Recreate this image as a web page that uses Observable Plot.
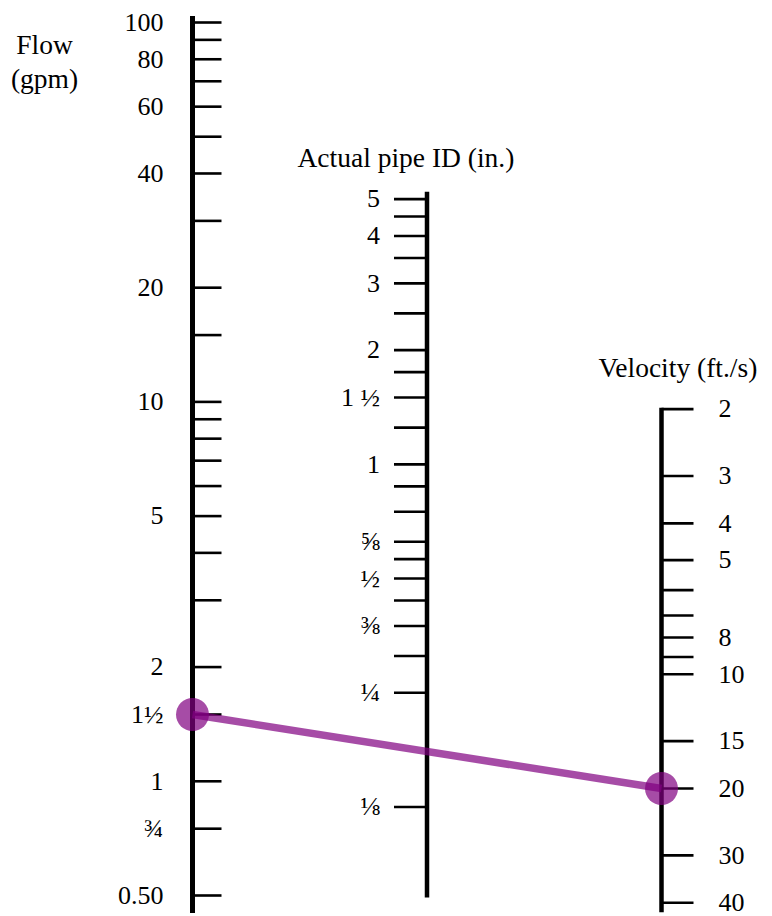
<!DOCTYPE html>
<html>
<head>
<meta charset="utf-8">
<script src="https://cdn.jsdelivr.net/npm/d3@7"></script>
<script src="https://cdn.jsdelivr.net/npm/@observablehq/plot@0.6"></script>
<style>
  html, body { margin: 0; padding: 0; background: #fff; }
  #chart svg text { font-family: "Liberation Serif", "Times New Roman", Times, serif; }
</style>
</head>
<body>
<div id="chart"></div>
<script>
// ---------- Data ----------
// Flow axis (gpm)
const flowTicks = [100, 90, 80, 70, 60, 50, 40, 30, 20, 15, 10, 9, 8, 7, 6, 5, 4, 3, 2, 1.5, 1, 0.75, 0.5];
const flowLabelValues = [100, 80, 60, 40, 20, 10, 5, 2, 1.5, 1, 0.75, 0.5];
const flowLabelTexts = ["100", "80", "60", "40", "20", "10", "5", "2", "1½", "1", "¾", "0.50"];

// Actual pipe ID axis (in.)
const pipeTicks = [5, 4.5, 4, 3.5, 3, 2.5, 2, 1.75, 1.5, 1.25, 1, 0.875, 0.75, 0.625, 0.5625, 0.5, 0.4375, 0.375, 0.3125, 0.25, 0.125];
const pipeLabelValues = [5, 4, 3, 2, 1.5, 1, 0.625, 0.5, 0.375, 0.25, 0.125];
const pipeLabelTexts = ["5", "4", "3", "2", "1 ½", "1", "⅝", "½", "⅜", "¼", "⅛"];

// Velocity axis (ft./s)
const velTicks = [2, 3, 4, 5, 6, 7, 8, 9, 10, 15, 20, 30, 40];
const velLabelValues = [2, 3, 4, 5, 8, 10, 15, 20, 30, 40];
const velLabelTexts = ["2", "3", "4", "5", "8", "10", "15", "20", "30", "40"];

// Axis titles
const axisTitles = ["Flow", "(gpm)", "Actual pipe ID (in.)", "Velocity (ft./s)"];

// Example reading drawn on the nomogram
const exampleFlow = 1.5;      // gpm
const exampleVelocity = 20;   // ft./s

// ---------- Nomogram geometry ----------
// Q[gpm] = 2.448 * V[ft/s] * D[in]^2 ; all three scales share one log modulus.
const GPM_FACTOR = 2.448;
const KV = 19.14;                          // velocity scale offset (flow-equivalent = KV / V)
const KD = Math.sqrt(GPM_FACTOR * KV);     // pipe scale follows from the equation
const flowPos = q => q;
const velPos = v => KV / v;
const pipePos = d => KD * d;

const W = 772, H = 916;
const M = {top: 22, bottom: 21, left: 192, right: 111};
const UNIT = (W - M.left - M.right) / 2;   // px between adjacent axes
const FONT = '"Liberation Serif", "Times New Roman", Times, serif';
const TICK_FS = 26, TITLE_FS = 27.5;

const axes = [
  {i: 0, ticks: flowTicks, vals: flowLabelValues, texts: flowLabelTexts, pos: flowPos,
   dir: 1, len: 29, dx: -29, anchor: "end", sw: 5, insetTop: -6, insetBottom: -18},
  {i: 1, ticks: pipeTicks, vals: pipeLabelValues, texts: pipeLabelTexts, pos: pipePos,
   dir: -1, len: 33, dx: -47, anchor: "end", sw: 4.5, insetTop: -7, insetBottom: -91},
  {i: 2, ticks: velTicks, vals: velLabelValues, texts: velLabelTexts, pos: velPos,
   dir: 1, len: 32, dx: 57, anchor: "start", sw: 4.5, insetTop: -1, insetBottom: -10}
];

const marks = [];
for (const a of axes) {
  const ys = a.ticks.map(a.pos);
  const top = d3.max(ys), bottom = d3.min(ys);
  marks.push(Plot.ruleX([a.i], {
    x: d => d, y1: () => top, y2: () => bottom,
    stroke: "black", strokeWidth: a.sw, insetTop: a.insetTop, insetBottom: a.insetBottom
  }));
  marks.push(Plot.link(a.ticks, {
    x1: () => a.i, x2: () => a.i + a.dir * a.len / UNIT,
    y1: d => a.pos(d), y2: d => a.pos(d),
    stroke: "black", strokeWidth: 2.6
  }));
  marks.push(Plot.text(a.vals, {
    x: () => a.i, y: d => a.pos(d),
    text: (d, k) => a.texts[k],
    dx: a.dx, textAnchor: a.anchor, lineAnchor: "middle",
    fontSize: TICK_FS, fontFamily: FONT, fill: "black"
  }));
}

// Titles
const titleOpts = {frameAnchor: "top", lineAnchor: "bottom", fontSize: TITLE_FS, fontFamily: FONT, fill: "black"};
marks.push(Plot.text([axisTitles[0]], {...titleOpts, x: () => 0, dx: -148, dy: 31, textAnchor: "middle"}));
marks.push(Plot.text([axisTitles[1]], {...titleOpts, x: () => 0, dx: -148, dy: 65, textAnchor: "middle"}));
marks.push(Plot.text([axisTitles[2]], {...titleOpts, x: () => 1, dx: -129.5, dy: 144, textAnchor: "start"}));
marks.push(Plot.text([axisTitles[3]], {...titleOpts, x: () => 2, dx: -63, dy: 354, textAnchor: "start"}));

// Example isopleth
const example = [{q: exampleFlow, v: exampleVelocity}];
marks.push(Plot.link(example, {
  x1: () => 0, y1: d => flowPos(d.q), x2: () => 2, y2: d => velPos(d.v),
  stroke: "purple", strokeOpacity: 0.7, strokeWidth: 7.5
}));
const endpoints = [{axis: 0, y: flowPos(exampleFlow)}, {axis: 2, y: velPos(exampleVelocity)}];
marks.push(Plot.dot(endpoints, {
  x: "axis", y: "y", r: 16.5, fill: "purple", fillOpacity: 0.7, stroke: "none"
}));

const chart = Plot.plot({
  width: W, height: H,
  marginTop: M.top, marginBottom: M.bottom, marginLeft: M.left, marginRight: M.right,
  x: {type: "linear", domain: [0, 2], axis: null},
  y: {type: "log", domain: [0.5, 100], axis: null},
  style: {fontFamily: FONT, fontSize: "26px", background: "white", color: "black"},
  marks
});
document.getElementById("chart").appendChild(chart);
</script>
</body>
</html>
